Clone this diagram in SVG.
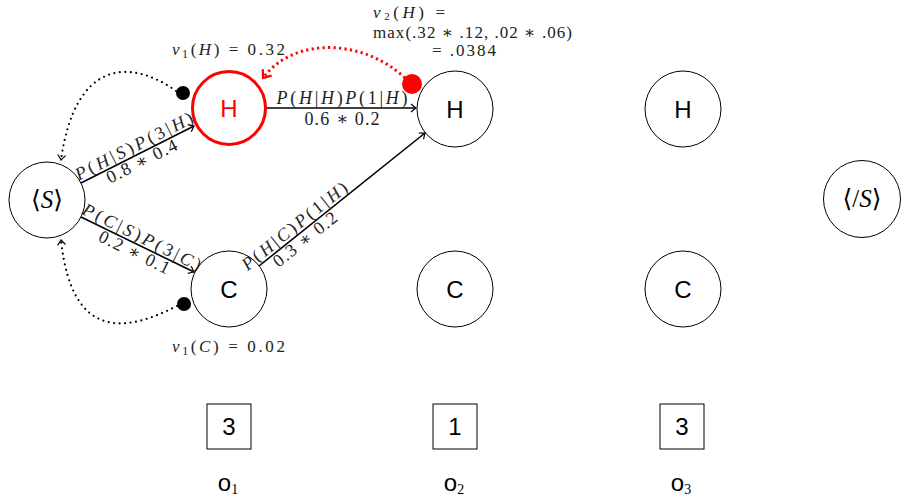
<svg xmlns="http://www.w3.org/2000/svg" width="901" height="499" viewBox="0 0 901 499">
<defs>
<marker id="arr" viewBox="-6 -5 8 10" markerWidth="8" markerHeight="10" refX="0" refY="0" orient="auto" markerUnits="userSpaceOnUse">
<path d="M -5 -4 Q -1.5 -1 0 0 Q -1.5 1 -5 4" fill="none" stroke="#000" stroke-width="1.2"/>
</marker>
<marker id="arrRed" viewBox="-9 -7 11 14" markerWidth="11" markerHeight="14" refX="0" refY="0" orient="auto" markerUnits="userSpaceOnUse">
<path d="M -7 -5.5 Q -2 -1.5 0 0 Q -2 1.5 -7 5.5" fill="none" stroke="#f00" stroke-width="2.2"/>
</marker>
</defs>
<style>
.node{fill:#fff;stroke:#000;stroke-width:1}
.lbl{font-family:"Liberation Sans","DejaVu Sans",sans-serif;font-size:24px;text-anchor:middle}
.ser{font-family:"Liberation Serif","DejaVu Serif",serif;font-size:25px;text-anchor:middle}
.edge{fill:none;stroke:#000;stroke-width:1.6;marker-end:url(#arr)}
.dot{fill:none;stroke:#000;stroke-width:2.2;stroke-linecap:round;stroke-dasharray:0 5.5;marker-end:url(#arr)}
.math{font-family:"Liberation Serif","DejaVu Serif",serif;font-size:17px;fill:#222}
.el{font-family:"Liberation Serif","DejaVu Serif",serif;font-size:18px;text-anchor:middle;fill:#222}
.it{font-style:italic}
.box{fill:#fff;stroke:#000;stroke-width:1}
</style>

<g id="connectors">
<line class="edge" x1="81" y1="183" x2="194" y2="126"/>
<line class="edge" x1="81" y1="217" x2="194" y2="272"/>
<line class="edge" x1="267" y1="108" x2="416" y2="108"/>
<line class="edge" x1="259" y1="266" x2="425" y2="133"/>
<path class="dot" d="M 176 91 C 130 58, 75 60, 61 160"/>
<path class="dot" d="M 177 306 C 130 330, 72 345, 61 240"/>
<path d="M 405 78 C 365 40, 295 35, 263 78" fill="none" stroke="#f00" stroke-width="3" stroke-dasharray="2.2 3.3" marker-end="url(#arrRed)"/>
<circle cx="183" cy="93" r="7" fill="#000"/>
<circle cx="184" cy="304" r="7" fill="#000"/>
<circle cx="412" cy="84" r="10" fill="#f00"/>
</g>

<g id="node-S">
<circle class="node" cx="47" cy="200" r="38"/>
<text class="ser" x="47" y="208">⟨<tspan class="it">S</tspan>⟩</text>
</g>
<g id="node-H1">
<circle cx="229" cy="108" r="36.5" fill="#fff" stroke="#f00" stroke-width="3"/>
<text class="lbl" x="229" y="117" fill="#f00">H</text>
</g>
<g id="node-C1">
<circle class="node" cx="229" cy="289" r="38"/>
<text class="lbl" x="229" y="298">C</text>
</g>
<g id="node-H2">
<circle class="node" cx="455" cy="109" r="38"/>
<text class="lbl" x="455" y="118">H</text>
</g>
<g id="node-C2">
<circle class="node" cx="455" cy="289" r="38"/>
<text class="lbl" x="455" y="298">C</text>
</g>
<g id="node-H3">
<circle class="node" cx="683" cy="109" r="38"/>
<text class="lbl" x="683" y="118">H</text>
</g>
<g id="node-C3">
<circle class="node" cx="683" cy="289" r="38"/>
<text class="lbl" x="683" y="298">C</text>
</g>
<g id="node-endS">
<circle class="node" cx="862" cy="199" r="38.5"/>
<text class="ser" x="862" y="207">⟨/<tspan class="it">S</tspan>⟩</text>
</g>

<g id="edge-labels">
<g transform="translate(138,154) rotate(-26.8)">
<text class="el" x="0" y="-3" textLength="130" lengthAdjust="spacing"><tspan class="it">P</tspan>(<tspan class="it">H</tspan>|<tspan class="it">S</tspan>)<tspan class="it">P</tspan>(3|<tspan class="it">H</tspan>)</text>
<text class="el" x="0" y="14" textLength="77" lengthAdjust="spacing">0.8 ∗ 0.4</text>
</g>
<g transform="translate(138,245) rotate(26.3)">
<text class="el" x="0" y="-3" textLength="130" lengthAdjust="spacing"><tspan class="it">P</tspan>(<tspan class="it">C</tspan>|<tspan class="it">S</tspan>)<tspan class="it">P</tspan>(3|<tspan class="it">C</tspan>)</text>
<text class="el" x="0" y="14" textLength="77" lengthAdjust="spacing">0.2 ∗ 0.1</text>
</g>
<g transform="translate(342,108)">
<text class="el" x="0" y="-4" textLength="131" lengthAdjust="spacing"><tspan class="it">P</tspan>(<tspan class="it">H</tspan>|<tspan class="it">H</tspan>)<tspan class="it">P</tspan>(1|<tspan class="it">H</tspan>)</text>
<text class="el" x="0" y="17" textLength="75" lengthAdjust="spacing">0.6 ∗ 0.2</text>
</g>
<g transform="translate(300,233) rotate(-38.7)">
<text class="el" x="0" y="-3" textLength="130" lengthAdjust="spacing"><tspan class="it">P</tspan>(<tspan class="it">H</tspan>|<tspan class="it">C</tspan>)<tspan class="it">P</tspan>(1|<tspan class="it">H</tspan>)</text>
<text class="el" x="0" y="14" textLength="77" lengthAdjust="spacing">0.3 ∗ 0.2</text>
</g>
</g>

<g id="obs1">
<rect class="box" x="207" y="404" width="44" height="45"/>
<text class="lbl" x="229" y="435" font-size="22">3</text>
<text class="lbl" x="228" y="491" font-size="22">o<tspan font-family="Liberation Serif" font-size="14" dy="3">1</tspan></text>
</g>
<g id="obs2">
<rect class="box" x="433" y="404" width="44" height="45"/>
<text class="lbl" x="455" y="435" font-size="22">1</text>
<text class="lbl" x="454" y="491" font-size="22">o<tspan font-family="Liberation Serif" font-size="14" dy="3">2</tspan></text>
</g>
<g id="obs3">
<rect class="box" x="660" y="404" width="44" height="45"/>
<text class="lbl" x="682" y="435" font-size="22">3</text>
<text class="lbl" x="681" y="491" font-size="22">o<tspan font-family="Liberation Serif" font-size="14" dy="3">3</tspan></text>
</g>

<g id="annotations">
<text class="math" x="172" y="55" textLength="113" lengthAdjust="spacing"><tspan class="it">v</tspan><tspan font-size="12" dy="3">1</tspan><tspan dy="-3">(</tspan><tspan class="it">H</tspan>) = 0.32</text>
<text class="math" x="172" y="352" textLength="113" lengthAdjust="spacing"><tspan class="it">v</tspan><tspan font-size="12" dy="3">1</tspan><tspan dy="-3">(</tspan><tspan class="it">C</tspan>) = 0.02</text>
<text class="math" x="373" y="18" textLength="72" lengthAdjust="spacing"><tspan class="it">v</tspan><tspan font-size="11" dy="2">2</tspan><tspan dy="-2">(</tspan><tspan class="it">H</tspan>) =</text>
<text class="math" x="373" y="38" textLength="199" lengthAdjust="spacing">max(.32 ∗ .12, .02 ∗ .06)</text>
<text class="math" x="432" y="56" textLength="64" lengthAdjust="spacing">= .0384</text>
</g>
</svg>
